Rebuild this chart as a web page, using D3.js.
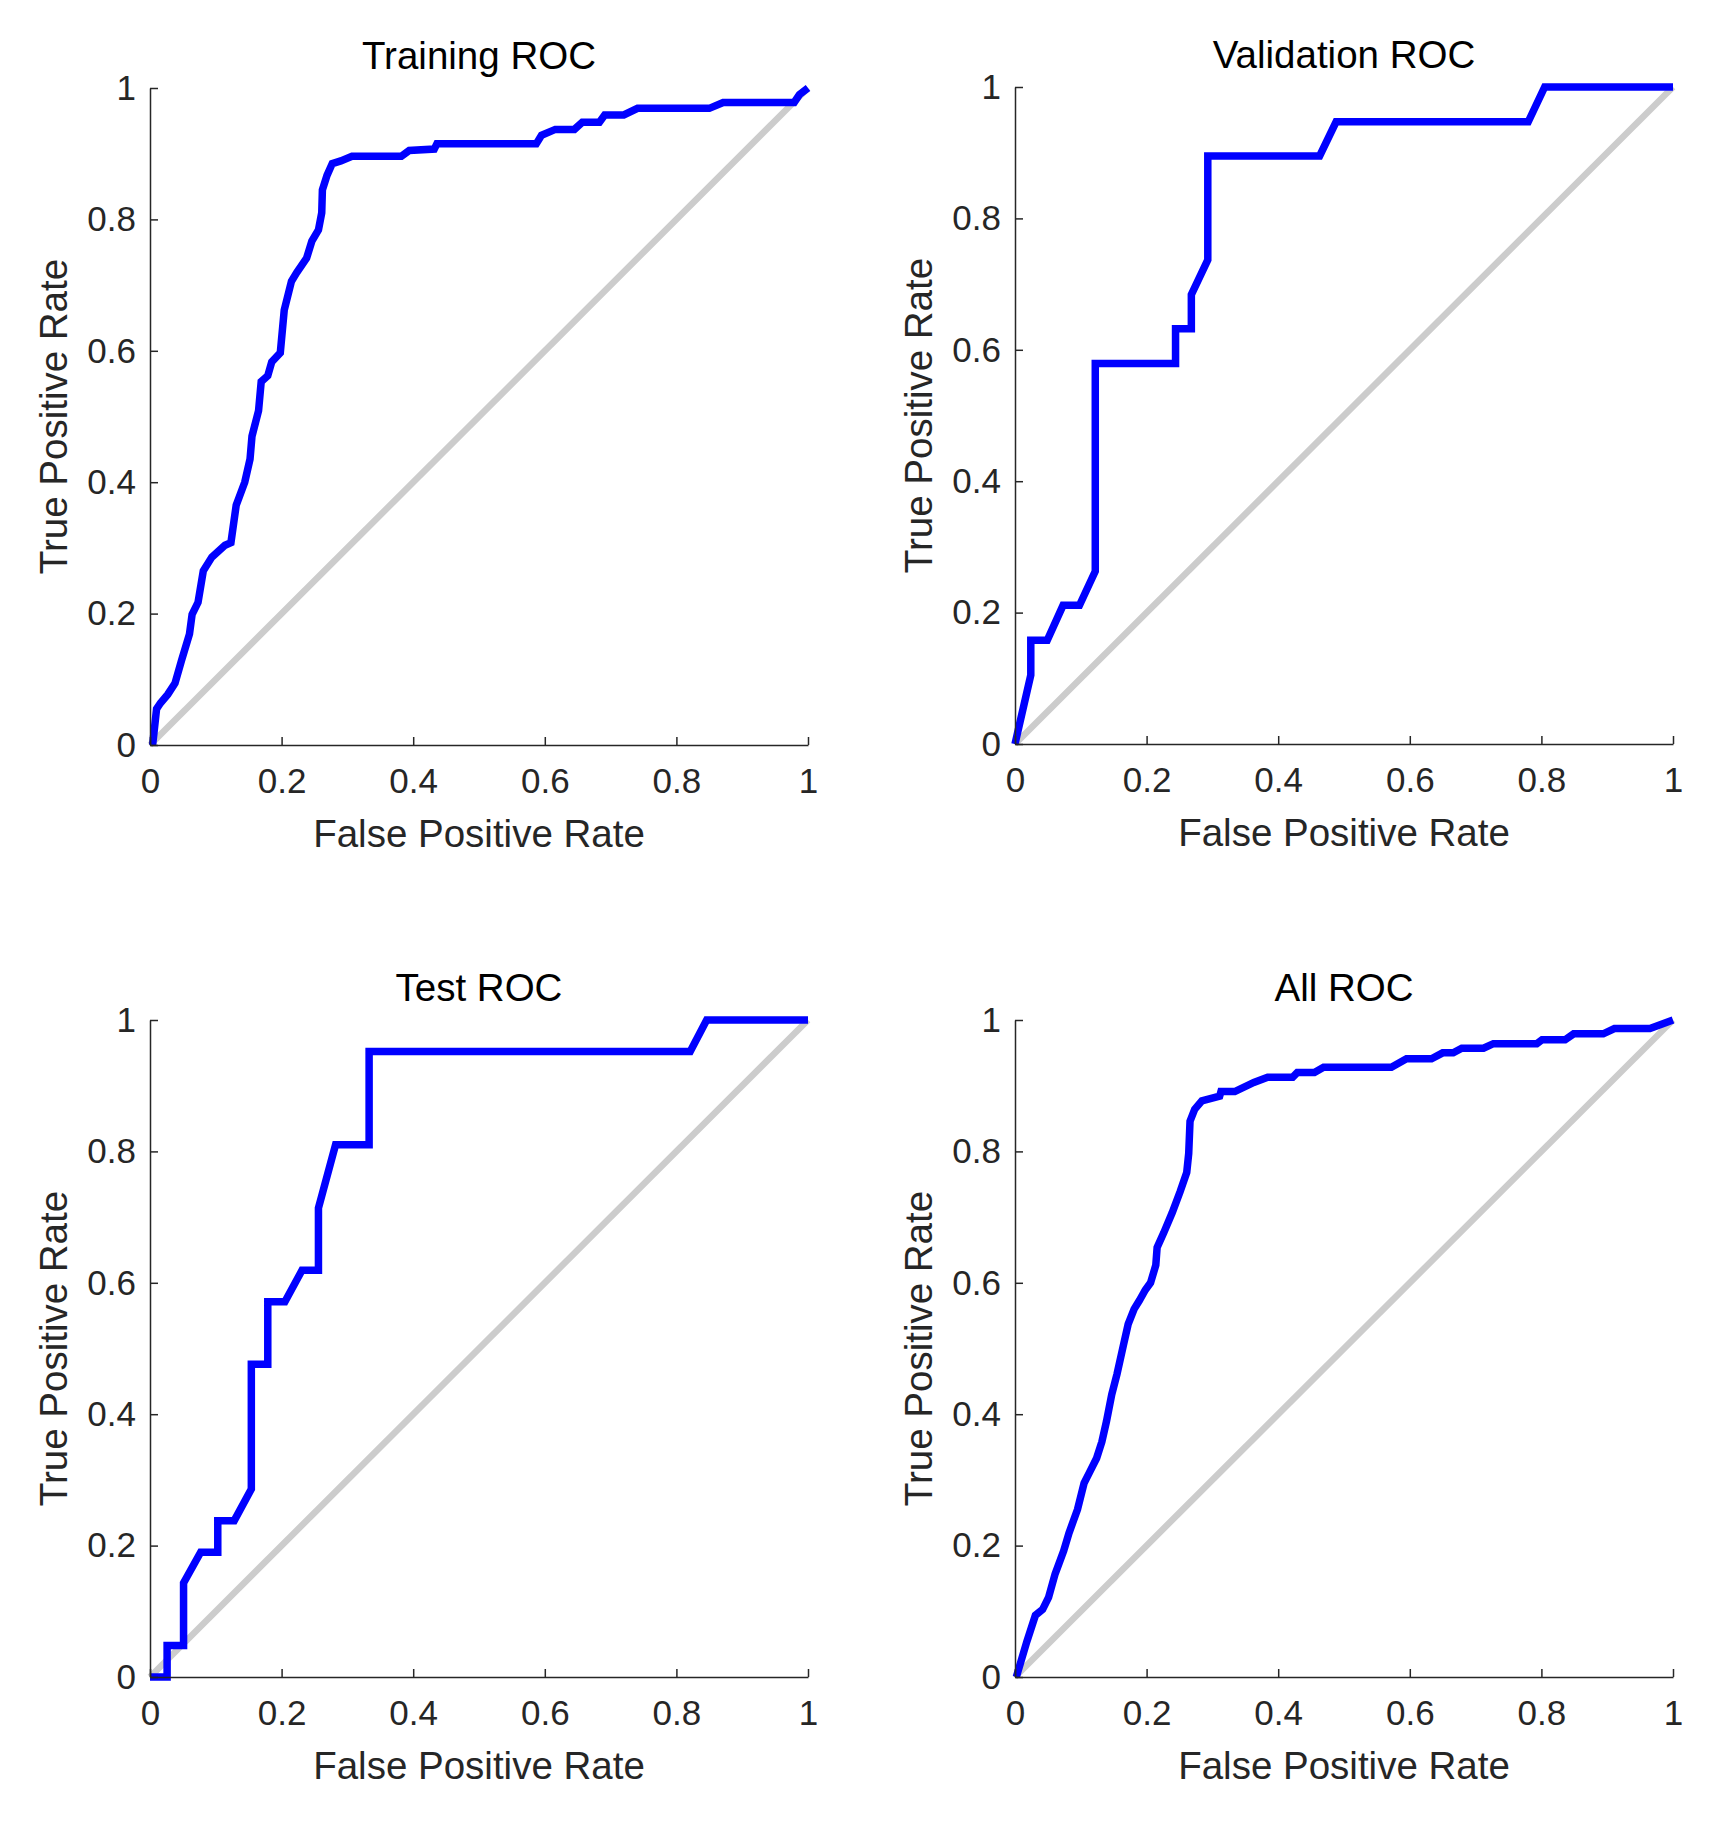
<!DOCTYPE html>
<html>
<head>
<meta charset="utf-8">
<script src="https://cdn.jsdelivr.net/npm/d3@7"></script>
<style>
  body { margin: 0; background: #fff; }
  svg { display: block; font-family: "Liberation Sans", Arial, sans-serif; }
</style>
</head>
<body>
<svg width="1719" height="1823"></svg>
<script>
const tickValues = [0, 0.2, 0.4, 0.6, 0.8, 1];
const titles = ["Training ROC", "Validation ROC", "Test ROC", "All ROC"];

// [FPR, TPR] pairs
const trainingRoc = [
  [0.004, 0], [0.010, 0.055], [0.016, 0.064], [0.027, 0.077], [0.038, 0.094],
  [0.048, 0.129], [0.060, 0.169], [0.064, 0.199], [0.073, 0.217], [0.081, 0.265],
  [0.094, 0.286], [0.114, 0.304], [0.123, 0.308], [0.131, 0.365], [0.144, 0.400],
  [0.152, 0.435], [0.155, 0.470], [0.165, 0.509], [0.169, 0.553], [0.179, 0.562],
  [0.185, 0.583], [0.198, 0.597], [0.204, 0.662], [0.215, 0.706], [0.223, 0.719],
  [0.238, 0.741], [0.246, 0.767], [0.256, 0.784], [0.261, 0.810], [0.262, 0.845],
  [0.269, 0.867], [0.277, 0.885], [0.290, 0.889], [0.307, 0.896], [0.382, 0.896],
  [0.394, 0.905], [0.432, 0.907], [0.436, 0.915], [0.587, 0.915], [0.595, 0.928],
  [0.616, 0.937], [0.645, 0.937], [0.657, 0.948], [0.683, 0.948], [0.691, 0.959],
  [0.720, 0.959], [0.741, 0.969], [0.850, 0.969], [0.871, 0.978], [0.979, 0.978],
  [0.987, 0.990], [1, 1]
];

const validationRoc = [
  [0, 0], [0.024, 0.105], [0.024, 0.158], [0.049, 0.158], [0.073, 0.211],
  [0.098, 0.211], [0.122, 0.263], [0.122, 0.579], [0.244, 0.579], [0.244, 0.632],
  [0.268, 0.632], [0.268, 0.684], [0.293, 0.737], [0.293, 0.895], [0.463, 0.895],
  [0.488, 0.947], [0.780, 0.947], [0.805, 1], [1, 1]
];

const testRoc = [
  [0, 0], [0.026, 0], [0.026, 0.048], [0.051, 0.048], [0.051, 0.143],
  [0.077, 0.190], [0.103, 0.190], [0.103, 0.238], [0.128, 0.238], [0.154, 0.286],
  [0.154, 0.476], [0.179, 0.476], [0.179, 0.571], [0.205, 0.571], [0.231, 0.619],
  [0.256, 0.619], [0.256, 0.714], [0.282, 0.810], [0.333, 0.810], [0.333, 0.952],
  [0.821, 0.952], [0.846, 1], [1, 1]
];

const allRoc = [
  [0.002, 0], [0.018, 0.054], [0.031, 0.094], [0.042, 0.103], [0.051, 0.121],
  [0.061, 0.157], [0.074, 0.192], [0.082, 0.219], [0.095, 0.255], [0.105, 0.295],
  [0.114, 0.313], [0.124, 0.333], [0.132, 0.358], [0.139, 0.389], [0.147, 0.430],
  [0.155, 0.461], [0.165, 0.506], [0.172, 0.537], [0.181, 0.560], [0.189, 0.573],
  [0.198, 0.589], [0.206, 0.600], [0.214, 0.627], [0.216, 0.654], [0.226, 0.676],
  [0.239, 0.707], [0.251, 0.739], [0.261, 0.768], [0.264, 0.797], [0.266, 0.846],
  [0.273, 0.864], [0.284, 0.877], [0.311, 0.884], [0.313, 0.891], [0.334, 0.891],
  [0.363, 0.905], [0.384, 0.913], [0.422, 0.913], [0.429, 0.920], [0.455, 0.920],
  [0.469, 0.928], [0.572, 0.928], [0.595, 0.941], [0.633, 0.941], [0.650, 0.950],
  [0.666, 0.950], [0.679, 0.957], [0.712, 0.957], [0.727, 0.964], [0.793, 0.964],
  [0.801, 0.970], [0.836, 0.970], [0.849, 0.979], [0.894, 0.979], [0.911, 0.987],
  [0.965, 0.987], [1, 1]
];

const diagonal = [[0, 0], [1, 1]];

const curves = [trainingRoc, validationRoc, testRoc, allRoc];
const panels = [
  { left: 150, top: 88 },
  { left: 1015, top: 87 },
  { left: 150, top: 1020 },
  { left: 1015, top: 1020 }
];

const width = 658, height = 657;
const textColor = "#262626";

const svg = d3.select("svg");

panels.forEach((p, i) => {
  const g = svg.append("g").attr("transform", `translate(${p.left},${p.top})`);

  const x = d3.scaleLinear().domain([0, 1]).range([0, width]);
  const y = d3.scaleLinear().domain([0, 1]).range([height, 0]);

  const line = d3.line().x(d => x(d[0])).y(d => y(d[1]));

  // chance line
  g.append("path")
    .datum(diagonal)
    .attr("fill", "none")
    .attr("stroke", "#cccccc")
    .attr("stroke-width", 6.5)
    .attr("d", line);

  // ROC curve
  g.append("path")
    .datum(curves[i])
    .attr("fill", "none")
    .attr("stroke", "#0000ff")
    .attr("stroke-width", 7.5)
    .attr("stroke-linejoin", "miter")
    .attr("d", line);

  // axes, ticks pointing inward
  const xAxis = g.append("g")
    .attr("transform", `translate(0,${height})`)
    .call(d3.axisBottom(x).tickValues(tickValues).tickFormat(d3.format("~g"))
      .tickSizeInner(-8).tickSizeOuter(0).tickPadding(23));

  const yAxis = g.append("g")
    .call(d3.axisLeft(y).tickValues(tickValues).tickFormat(d3.format("~g"))
      .tickSizeInner(-8).tickSizeOuter(0).tickPadding(14));

  [xAxis, yAxis].forEach(ax => {
    ax.select(".domain").attr("stroke", textColor).attr("stroke-width", 1.5);
    ax.selectAll(".tick line").attr("stroke", textColor).attr("stroke-width", 1.5);
    ax.selectAll(".tick text")
      .attr("fill", textColor)
      .style("font-size", "35px")
      .style("font-family", "'Liberation Sans', Arial, sans-serif");
  });

  g.append("text")
    .attr("x", width / 2)
    .attr("y", -19)
    .attr("text-anchor", "middle")
    .attr("fill", "#000")
    .style("font-size", "38.5px")
    .text(titles[i]);

  g.append("text")
    .attr("x", width / 2)
    .attr("y", height + 102)
    .attr("text-anchor", "middle")
    .attr("fill", textColor)
    .style("font-size", "38.5px")
    .text("False Positive Rate");

  g.append("text")
    .attr("transform", "rotate(-90)")
    .attr("x", -height / 2)
    .attr("y", -83)
    .attr("text-anchor", "middle")
    .attr("fill", textColor)
    .style("font-size", "38.5px")
    .text("True Positive Rate");
});
</script>
</body>
</html>
